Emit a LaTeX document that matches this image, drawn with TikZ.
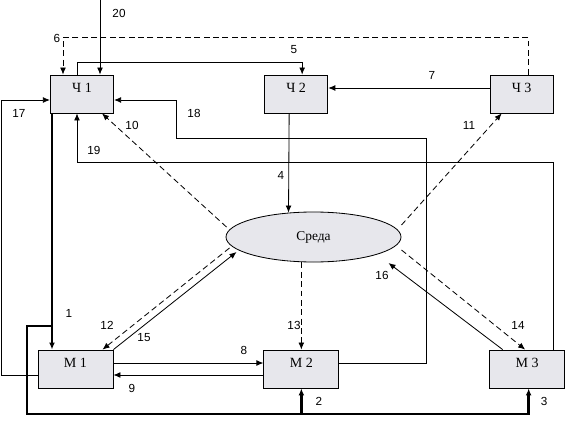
\documentclass[tikz,border=0pt]{standalone}
\usepackage{fontspec}
\setmainfont{Liberation Serif}
\setsansfont{Liberation Sans}
\usetikzlibrary{positioning, calc, arrows.meta, shapes.geometric}
\definecolor{boxgray}{RGB}{231,231,236}

\begin{document}
\begin{tikzpicture}[
    x=0.03cm, y=-0.03cm,
    line width=0.7pt,
    >={Latex[length=6pt,width=5pt]},
    block/.style={draw, fill=boxgray, minimum width=1.9cm, minimum height=1.14cm, inner sep=0pt, text height=0.25cm, text depth=0.35cm, font=\rmfamily\fontsize{12}{14}\selectfont},
    mblock/.style={block, minimum width=2.25cm},
    medium/.style={ellipse, draw, fill=boxgray, minimum width=5.25cm, minimum height=1.5cm, inner sep=0pt, font=\rmfamily\fontsize{11.5}{14}\selectfont},
    link/.style={->},
    info/.style={->, dash pattern=on 5pt off 3pt},
    bus/.style={line width=2.5pt},
    num/.style={font=\sffamily\fontsize{10}{12}\selectfont, inner sep=1pt}
]
    \useasboundingbox (0,0) rectangle (565,426);

    % Nodes
    \node[block] (Ch1) at (82,94) {Ч 1};
    \node[block, right=4.5cm of Ch1] (Ch2) {Ч 2};
    \node[block, right=4.84cm of Ch2] (Ch3) {Ч 3};
    \node[mblock] (M1) at (75.5,369) {М 1};
    \node[mblock, right=4.5cm of M1] (M2) {М 2};
    \node[mblock, right=4.5cm of M2] (M3) {М 3};
    \node[medium] (Sreda) at (313.5,237) {Среда};

    % Top links
    \coordinate (in20) at (100,0);
    \draw[link] (in20) -- (in20 |- Ch1.north);
    \draw[info] ($(Ch3.north)+(7,0)$) -- ++(0,-37) -| ($(Ch1.north)+(-19,0)$);
    \draw[link] ($(Ch1.north)+(-5,0)$) -- ++(0,-12) -| ($(Ch2.north)+(6,0)$);
    \draw[link] ($(Ch3.west)+(0,-6)$) -- ($(Ch2.east)+(0,-6)$);
    \draw[link] ($(Ch2.south)+(-7,0)$) -- ($(Sreda.north)+(-25,1)$);

    % Links through the medium
    \draw[info] ($(Sreda.center)+(-87,-10)$) -- ($(Ch1.south)+(20,0)$);
    \draw[info] ($(Sreda.center)+(88,-12)$) -- ($(Ch3.south)+(-20,0)$);
    \draw[info] ($(Sreda.center)+(-84,11)$) -- ($(M1.north)+(27,0)$);
    \draw[link] (M1.north east) -- ($(Sreda.center)+(-77,15)$);
    \draw[info] (M2.north |- Sreda.south) -- (M2.north);
    \draw[info] ($(Sreda.center)+(88,13)$) -- ($(M3.north)+(-2,0)$);
    \draw[link] ($(M3.north)+(-24.5,0)$) -- ($(Sreda.center)+(75,26)$);

    % Links between M
    \draw[link] ($(M1.east)+(0,-6)$) -- ($(M2.west)+(0,-6)$);
    \draw[link] ($(M2.west)+(0,6)$) -- ($(M1.east)+(0,6)$);

    % Feedback
    \draw[link] ($(M2.east)+(0,-6)$) -- (426,363) |- (176,138) |- ($(Ch1.east)+(0,6)$);
    \draw[link] ($(M3.north)+(26.5,0)$) -- ++(0,-187) -| ($(Ch1.south)+(-5,0)$);
    \draw[link] ($(M1.west)+(0,6)$) -- ++(-36,0) |- ($(Ch1.west)+(0,6)$);

    % Control bus
    \draw[bus, ->] ($(Ch1.south)+(-30,0)$) coordinate (b1) -- (b1 |- M1.north);
    \draw[bus, ->] (b1 |- 0,326) -| (27,414) -| ($(M3.south)+(1.5,0)$);
    \draw[bus, ->] (M2.south |- 0,414) -- (M2.south);

    % Numbers
    \foreach \t/\x/\y in {20/119/13, 6/57/38, 5/294/50, 7/432/75, 17/19/113, 18/194/113,
        10/132/125, 19/94/150, 11/469/125, 4/281/175, 1/69/313, 12/107/325, 15/144/338,
        8/244/350, 9/132/388, 13/294/325, 14/518/325, 16/382/275, 2/319/401, 3/544/401}
        \node[num] (n\t) at (\x,\y) {\t};
\end{tikzpicture}
\end{document}
